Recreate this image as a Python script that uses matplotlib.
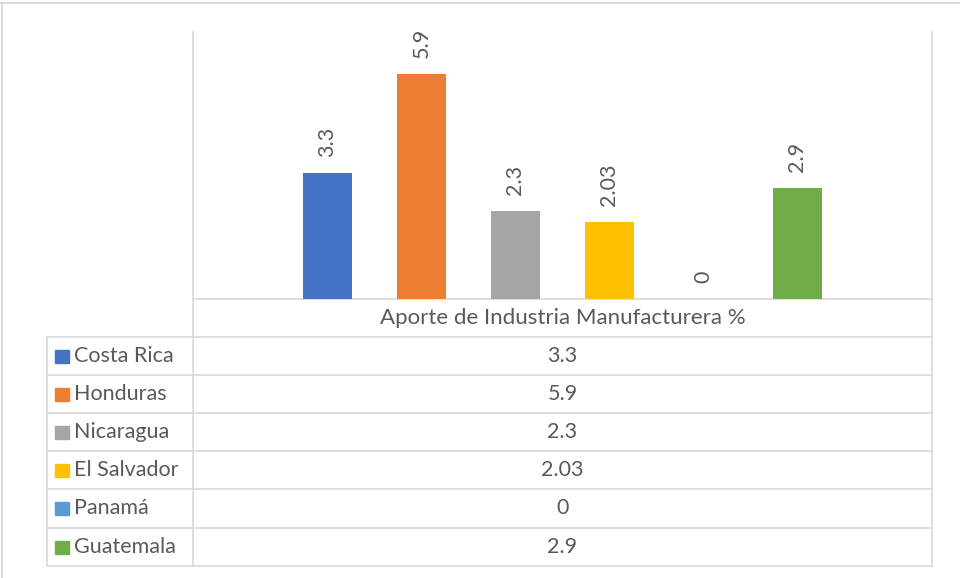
import matplotlib
matplotlib.use("Agg")
import matplotlib.pyplot as plt
from matplotlib.lines import Line2D

plt.rcParams['font.family'] = ['Lato', 'DejaVu Sans']

countries = ["Costa Rica", "Honduras", "Nicaragua", "El Salvador", "Panamá", "Guatemala"]
values = [3.3, 5.9, 2.3, 2.03, 0, 2.9]
value_labels = ["3.3", "5.9", "2.3", "2.03", "0", "2.9"]
colors = ["#4472C4", "#ED7D31", "#A5A5A5", "#FFC000", "#5B9BD5", "#70AD47"]
series_name = "Aporte de Industria Manufacturera %"

W, H = 960, 578
fig = plt.figure(figsize=(W / 100, H / 100), dpi=100)

txt_col = "#595959"
grid_col = "#D9D9D9"
fs = 15.5

# pixel geometry
px_left, px_right = 193, 932
px_top, px_base = 32, 299
leg_left = 47
row_edges = [299, 337, 375, 413, 451, 489, 528, 566]

ax = fig.add_axes([px_left / W, 1 - px_base / H, (px_right - px_left) / W, (px_base - px_top) / H])
x = list(range(len(values)))
ax.bar(x, values, width=0.53, color=colors, zorder=3)
span = (px_right - px_left) / 94.0
pad = (span - (len(values) - 1)) / 2
ax.set_xlim(-pad, len(values) - 1 + pad)
ax.set_ylim(0, 7)
ax.axis("off")
for xi, v, lab in zip(x, values, value_labels):
    ax.annotate(lab, (xi, v), xytext=(0, 11.5), textcoords="offset points",
                rotation=90, ha="center", va="bottom", fontsize=fs, color=txt_col)

# overlay for table
ov = fig.add_axes([0, 0, 1, 1], zorder=-1)
ov.set_xlim(0, W)
ov.set_ylim(H, 0)
ov.axis("off")

def line(x0, y0, x1, y1, c=grid_col, lw=1.2):
    ov.add_line(Line2D([x0, x1], [y0, y1], color=c, lw=lw))

# outer chart border (top/left)
line(0, 3, W, 3, c="#D9D9D9", lw=1.5)
line(2, 3, 2, H, c="#D9D9D9", lw=1.5)

# plot verticals
line(px_left, px_top, px_left, row_edges[-1])
line(px_right, px_top, px_right, row_edges[-1])
line(px_left, row_edges[0], px_right, row_edges[0])
for y in row_edges[1:]:
    line(leg_left, y, px_right, y)
line(leg_left, row_edges[1], leg_left, row_edges[-1])

cx = (px_left + px_right) / 2
ov.text(cx, (row_edges[0] + row_edges[1]) / 2, series_name, ha="center", va="center",
        fontsize=16, color=txt_col)
for i, (name, lab, col) in enumerate(zip(countries, value_labels, colors)):
    yc = (row_edges[i + 1] + row_edges[i + 2]) / 2
    ov.add_patch(plt.Rectangle((55, yc - 6.5), 14, 13, color=col))
    ov.text(74, yc, name, ha="left", va="center", fontsize=fs, color=txt_col)
    ov.text(cx, yc, lab, ha="center", va="center", fontsize=fs, color=txt_col)

fig.savefig("out.png", dpi=100)
